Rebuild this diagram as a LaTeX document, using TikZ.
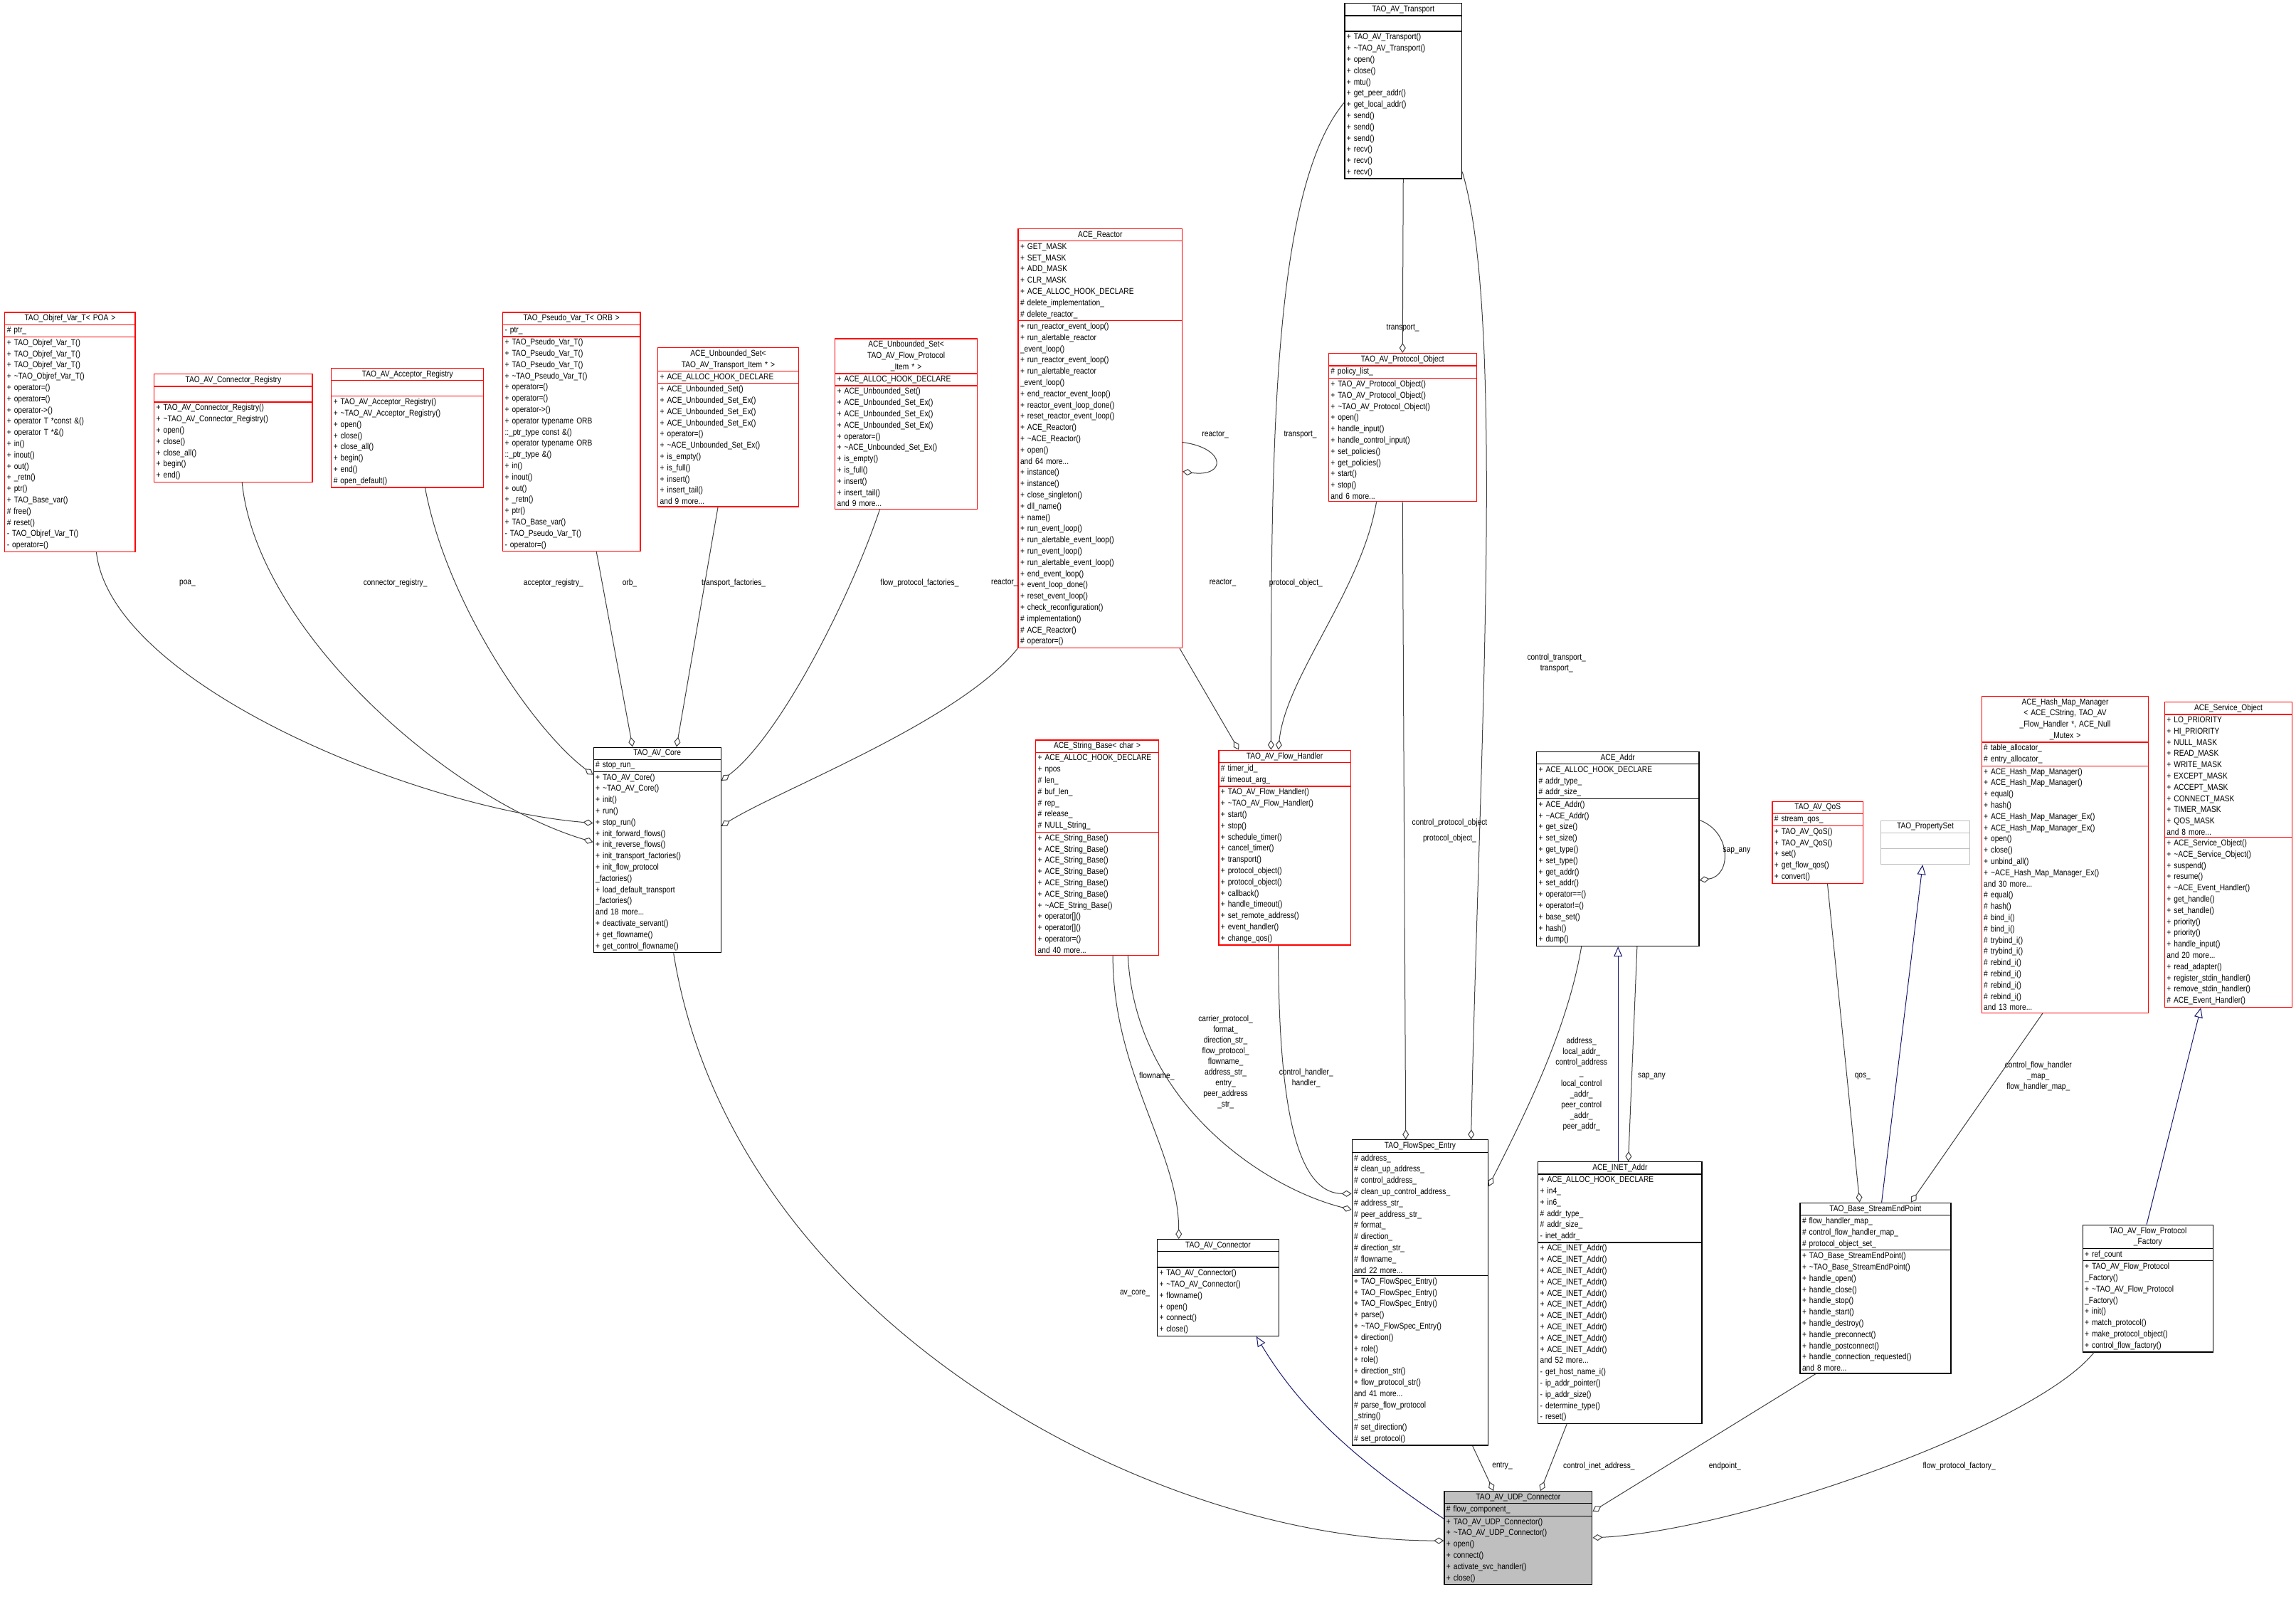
\documentclass[tikz,border=0pt]{standalone}
\usepackage{fontspec}
\setmainfont[FakeStretch=0.85]{Liberation Sans}
\usetikzlibrary{shapes.multipart,arrows.meta,calc}
\definecolor{edgegray}{HTML}{404040}
\definecolor{inhblue}{HTML}{191970}
\definecolor{boxred}{HTML}{FF0000}
\definecolor{boxgray}{HTML}{BFBFBF}
\tikzset{
	classbox/.style={rectangle split, rectangle split parts=3, draw=#1, anchor=north west, line width=1.3pt,
		inner xsep=3pt, inner ysep=2.5pt, font=\fontsize{12}{15.8}\selectfont, fill=white},
	cw/.style={text width=\dimexpr #1pt*2058/1000-6pt\relax},
	agg/.style={draw=edgegray, line width=1pt, -{Diamond[open,length=14pt,width=9pt]}},
	inh/.style={draw=inhblue, line width=1pt, -{Triangle[open,length=14pt,width=12pt]}},
	lbl/.style={font=\fontsize{12}{15}\selectfont, align=center, inner sep=1pt}
}
\begin{document}
\catcode`\_=12
\catcode`\~=12
\begin{tikzpicture}[x=2.058pt,y=-2.058pt]
	\useasboundingbox (0,0) rectangle (1568,1095);
	% upper row
	\node[classbox=black, cw=80] (transport) at (918,2) {\centering TAO_AV_Transport\par
		\nodepart{two}\strut
		\nodepart{three}\raggedright + TAO_AV_Transport()\\+ ~TAO_AV_Transport()\\+ open()\\+ close()\\+ mtu()\\+ get_peer_addr()\\+ get_local_addr()\\+ send()\\+ send()\\+ send()\\+ recv()\\+ recv()\\+ recv()\par};
	\node[classbox=boxred, cw=89] (objref) at (3,213) {\centering TAO_Objref_Var_T< POA >\par
		\nodepart{two}\raggedright \# ptr_\par
		\nodepart{three}\raggedright + TAO_Objref_Var_T()\\+ TAO_Objref_Var_T()\\+ TAO_Objref_Var_T()\\+ ~TAO_Objref_Var_T()\\+ operator=()\\+ operator=()\\+ operator->()\\+ operator T *const \&()\\+ operator T *\&()\\+ in()\\+ inout()\\+ out()\\+ _retn()\\+ ptr()\\+ TAO_Base_var()\\\# free()\\\# reset()\\- TAO_Objref_Var_T()\\- operator=()\par};
	\node[classbox=boxred, cw=108] (connreg) at (105,255) {\centering TAO_AV_Connector_Registry\par
		\nodepart{two}\strut
		\nodepart{three}\raggedright + TAO_AV_Connector_Registry()\\+ ~TAO_AV_Connector_Registry()\\+ open()\\+ close()\\+ close_all()\\+ begin()\\+ end()\par};
	\node[classbox=boxred, cw=104] (accreg) at (226,251) {\centering TAO_AV_Acceptor_Registry\par
		\nodepart{two}\strut
		\nodepart{three}\raggedright + TAO_AV_Acceptor_Registry()\\+ ~TAO_AV_Acceptor_Registry()\\+ open()\\+ close()\\+ close_all()\\+ begin()\\+ end()\\\# open_default()\par};
	\node[classbox=boxred, cw=94] (pseudo) at (343,213) {\centering TAO_Pseudo_Var_T< ORB >\par
		\nodepart{two}\raggedright - ptr_\par
		\nodepart{three}\raggedright + TAO_Pseudo_Var_T()\\+ TAO_Pseudo_Var_T()\\+ TAO_Pseudo_Var_T()\\+ ~TAO_Pseudo_Var_T()\\+ operator=()\\+ operator=()\\+ operator->()\\+ operator typename ORB\\::_ptr_type const \&()\\+ operator typename ORB\\::_ptr_type \&()\\+ in()\\+ inout()\\+ out()\\+ _retn()\\+ ptr()\\+ TAO_Base_var()\\- TAO_Pseudo_Var_T()\\- operator=()\par};
	\node[classbox=boxred, cw=96] (unbtrans) at (449,237) {\centering ACE_Unbounded_Set<\\TAO_AV_Transport_Item * >\par
		\nodepart{two}\raggedright + ACE_ALLOC_HOOK_DECLARE\par
		\nodepart{three}\raggedright + ACE_Unbounded_Set()\\+ ACE_Unbounded_Set_Ex()\\+ ACE_Unbounded_Set_Ex()\\+ ACE_Unbounded_Set_Ex()\\+ operator=()\\+ ~ACE_Unbounded_Set_Ex()\\+ is_empty()\\+ is_full()\\+ insert()\\+ insert_tail()\\and 9 more...\par};
	\node[classbox=boxred, cw=97] (unbflow) at (570,231) {\centering ACE_Unbounded_Set<\\TAO_AV_Flow_Protocol\\_Item * >\par
		\nodepart{two}\raggedright + ACE_ALLOC_HOOK_DECLARE\par
		\nodepart{three}\raggedright + ACE_Unbounded_Set()\\+ ACE_Unbounded_Set_Ex()\\+ ACE_Unbounded_Set_Ex()\\+ ACE_Unbounded_Set_Ex()\\+ operator=()\\+ ~ACE_Unbounded_Set_Ex()\\+ is_empty()\\+ is_full()\\+ insert()\\+ insert_tail()\\and 9 more...\par};
	\node[classbox=boxred, cw=112] (reactor) at (695,156) {\centering ACE_Reactor\par
		\nodepart{two}\raggedright + GET_MASK\\+ SET_MASK\\+ ADD_MASK\\+ CLR_MASK\\+ ACE_ALLOC_HOOK_DECLARE\\\# delete_implementation_\\\# delete_reactor_\par
		\nodepart{three}\raggedright + run_reactor_event_loop()\\+ run_alertable_reactor\\_event_loop()\\+ run_reactor_event_loop()\\+ run_alertable_reactor\\_event_loop()\\+ end_reactor_event_loop()\\+ reactor_event_loop_done()\\+ reset_reactor_event_loop()\\+ ACE_Reactor()\\+ ~ACE_Reactor()\\+ open()\\and 64 more...\\+ instance()\\+ instance()\\+ close_singleton()\\+ dll_name()\\+ name()\\+ run_event_loop()\\+ run_alertable_event_loop()\\+ run_event_loop()\\+ run_alertable_event_loop()\\+ end_event_loop()\\+ event_loop_done()\\+ reset_event_loop()\\+ check_reconfiguration()\\\# implementation()\\\# ACE_Reactor()\\\# operator=()\par};
	\node[classbox=boxred, cw=101] (protocol) at (907,241) {\centering TAO_AV_Protocol_Object\par
		\nodepart{two}\raggedright \# policy_list_\par
		\nodepart{three}\raggedright + TAO_AV_Protocol_Object()\\+ TAO_AV_Protocol_Object()\\+ ~TAO_AV_Protocol_Object()\\+ open()\\+ handle_input()\\+ handle_control_input()\\+ set_policies()\\+ get_policies()\\+ start()\\+ stop()\\and 6 more...\par};
	% middle row
	\node[classbox=black, cw=87] (core) at (405,510) {\centering TAO_AV_Core\par
		\nodepart{two}\raggedright \# stop_run_\par
		\nodepart{three}\raggedright + TAO_AV_Core()\\+ ~TAO_AV_Core()\\+ init()\\+ run()\\+ stop_run()\\+ init_forward_flows()\\+ init_reverse_flows()\\+ init_transport_factories()\\+ init_flow_protocol\\_factories()\\+ load_default_transport\\_factories()\\and 18 more...\\+ deactivate_servant()\\+ get_flowname()\\+ get_control_flowname()\par};
	\node[classbox=boxred, cw=84] (strbase) at (707,505) {\centering ACE_String_Base< char >\par
		\nodepart{two}\raggedright \mbox{+ ACE_ALLOC_HOOK_DECLARE}\\+ npos\\\# len_\\\# buf_len_\\\# rep_\\\# release_\\\# NULL_String_\par
		\nodepart{three}\raggedright + ACE_String_Base()\\+ ACE_String_Base()\\+ ACE_String_Base()\\+ ACE_String_Base()\\+ ACE_String_Base()\\+ ACE_String_Base()\\+ ~ACE_String_Base()\\+ operator[]()\\+ operator[]()\\+ operator=()\\and 40 more...\par};
	\node[classbox=boxred, cw=90] (flowhandler) at (832,512) {\centering TAO_AV_Flow_Handler\par
		\nodepart{two}\raggedright \# timer_id_\\\# timeout_arg_\par
		\nodepart{three}\raggedright + TAO_AV_Flow_Handler()\\+ ~TAO_AV_Flow_Handler()\\+ start()\\+ stop()\\+ schedule_timer()\\+ cancel_timer()\\+ transport()\\+ protocol_object()\\+ protocol_object()\\+ callback()\\+ handle_timeout()\\+ set_remote_address()\\+ event_handler()\\+ change_qos()\par};
	\node[classbox=black, cw=111] (addr) at (1049,513) {\centering ACE_Addr\par
		\nodepart{two}\raggedright + ACE_ALLOC_HOOK_DECLARE\\\# addr_type_\\\# addr_size_\par
		\nodepart{three}\raggedright + ACE_Addr()\\+ ~ACE_Addr()\\+ get_size()\\+ set_size()\\+ get_type()\\+ set_type()\\+ get_addr()\\+ set_addr()\\+ operator==()\\+ operator!=()\\+ base_set()\\+ hash()\\+ dump()\par};
	\node[classbox=boxred, cw=62] (qos) at (1210,547) {\centering TAO_AV_QoS\par
		\nodepart{two}\raggedright \# stream_qos_\par
		\nodepart{three}\raggedright + TAO_AV_QoS()\\+ TAO_AV_QoS()\\+ set()\\+ get_flow_qos()\\+ convert()\par};
	\node[classbox=boxgray, cw=61] (propset) at (1284,560) {\centering TAO_PropertySet\par
		\nodepart{two}\strut
		\nodepart{three}\strut};
	\node[classbox=boxred, cw=114] (hashmap) at (1353,475) {\centering ACE_Hash_Map_Manager\\< ACE_CString, TAO_AV\\_Flow_Handler *, ACE_Null\\_Mutex >\par
		\nodepart{two}\raggedright \# table_allocator_\\\# entry_allocator_\par
		\nodepart{three}\raggedright + ACE_Hash_Map_Manager()\\+ ACE_Hash_Map_Manager()\\+ equal()\\+ hash()\\+ ACE_Hash_Map_Manager_Ex()\\+ ACE_Hash_Map_Manager_Ex()\\+ open()\\+ close()\\+ unbind_all()\\+ ~ACE_Hash_Map_Manager_Ex()\\and 30 more...\\\# equal()\\\# hash()\\\# bind_i()\\\# bind_i()\\\# trybind_i()\\\# trybind_i()\\\# rebind_i()\\\# rebind_i()\\\# rebind_i()\\\# rebind_i()\\and 13 more...\par};
	\node[classbox=boxred, cw=87] (service) at (1478,479) {\centering ACE_Service_Object\par
		\nodepart{two}\raggedright + LO_PRIORITY\\+ HI_PRIORITY\\+ NULL_MASK\\+ READ_MASK\\+ WRITE_MASK\\+ EXCEPT_MASK\\+ ACCEPT_MASK\\+ CONNECT_MASK\\+ TIMER_MASK\\+ QOS_MASK\\and 8 more...\par
		\nodepart{three}\raggedright + ACE_Service_Object()\\+ ~ACE_Service_Object()\\+ suspend()\\+ resume()\\+ ~ACE_Event_Handler()\\+ get_handle()\\+ set_handle()\\+ priority()\\+ priority()\\+ handle_input()\\and 20 more...\\+ read_adapter()\\+ register_stdin_handler()\\+ remove_stdin_handler()\\\# ACE_Event_Handler()\par};
	% lower row
	\node[classbox=black, cw=93] (flowspec) at (923,778) {\centering TAO_FlowSpec_Entry\par
		\nodepart{two}\raggedright \# address_\\\# clean_up_address_\\\# control_address_\\\# clean_up_control_address_\\\# address_str_\\\# peer_address_str_\\\# format_\\\# direction_\\\# direction_str_\\\# flowname_\\and 22 more...\par
		\nodepart{three}\raggedright + TAO_FlowSpec_Entry()\\+ TAO_FlowSpec_Entry()\\+ TAO_FlowSpec_Entry()\\+ parse()\\+ ~TAO_FlowSpec_Entry()\\+ direction()\\+ role()\\+ role()\\+ direction_str()\\+ flow_protocol_str()\\and 41 more...\\\# parse_flow_protocol\\_string()\\\# set_direction()\\\# set_protocol()\par};
	\node[classbox=black, cw=112] (inetaddr) at (1050,793) {\centering ACE_INET_Addr\par
		\nodepart{two}\raggedright + ACE_ALLOC_HOOK_DECLARE\\+ in4_\\+ in6_\\\# addr_type_\\\# addr_size_\\- inet_addr_\par
		\nodepart{three}\raggedright + ACE_INET_Addr()\\+ ACE_INET_Addr()\\+ ACE_INET_Addr()\\+ ACE_INET_Addr()\\+ ACE_INET_Addr()\\+ ACE_INET_Addr()\\+ ACE_INET_Addr()\\+ ACE_INET_Addr()\\+ ACE_INET_Addr()\\+ ACE_INET_Addr()\\and 52 more...\\- get_host_name_i()\\- ip_addr_pointer()\\- ip_addr_size()\\- determine_type()\\- reset()\par};
	\node[classbox=black, cw=103] (endpoint) at (1229,821) {\centering TAO_Base_StreamEndPoint\par
		\nodepart{two}\raggedright \# flow_handler_map_\\\# control_flow_handler_map_\\\# protocol_object_set_\par
		\nodepart{three}\raggedright + TAO_Base_StreamEndPoint()\\+ ~TAO_Base_StreamEndPoint()\\+ handle_open()\\+ handle_close()\\+ handle_stop()\\+ handle_start()\\+ handle_destroy()\\+ handle_preconnect()\\+ handle_postconnect()\\+ handle_connection_requested()\\and 8 more...\par};
	\node[classbox=black, cw=89] (protofactory) at (1422,836) {\centering TAO_AV_Flow_Protocol\\_Factory\par
		\nodepart{two}\raggedright + ref_count\par
		\nodepart{three}\raggedright + TAO_AV_Flow_Protocol\\_Factory()\\+ ~TAO_AV_Flow_Protocol\\_Factory()\\+ init()\\+ match_protocol()\\+ make_protocol_object()\\+ control_flow_factory()\par};
	\node[classbox=black, cw=83] (avconnector) at (790,846) {\centering TAO_AV_Connector\par
		\nodepart{two}\strut
		\nodepart{three}\raggedright + TAO_AV_Connector()\\+ ~TAO_AV_Connector()\\+ flowname()\\+ open()\\+ connect()\\+ close()\par};
	\node[classbox=black, cw=101, fill=boxgray] (udpconn) at (986,1018) {\centering TAO_AV_UDP_Connector\par
		\nodepart{two}\raggedright \# flow_component_\par
		\nodepart{three}\raggedright + TAO_AV_UDP_Connector()\\+ ~TAO_AV_UDP_Connector()\\+ open()\\+ connect()\\+ activate_svc_handler()\\+ close()\par};

	% members of TAO_AV_Core
	\draw[agg] ($(objref.south)+(18,0)$) .. controls +(10,90) and +(-120,-10) .. ($(core.north west)+(0,52)$);
	\draw[agg] ($(connreg.south)+(6,0)$) .. controls +(10,100) and +(-100,-30) .. ($(core.north west)+(0,65)$);
	\draw[agg] ($(accreg.south)+(12,0)$) .. controls +(15,80) and +(-40,-30) .. ($(core.north west)+(0,19)$);
	\draw[agg] ($(pseudo.south)+(17,0)$) -- ($(core.north west)+(27,0)$);
	\draw[agg] ($(unbtrans.south)+(-7,0)$) -- ($(core.north west)+(57,0)$);
	\draw[agg] ($(unbflow.south)+(-18,0)$) .. controls +(-20,60) and +(40,-30) .. ($(core.north east)+(0,23)$);
	\draw[agg] (reactor.south west) .. controls +(-40,50) and +(40,-25) .. ($(core.north east)+(0,54)$);
	\node[lbl] (lpoa) at (128,398) {poa_};
	\node[lbl] (lconnreg) at (270,398) {connector_registry_};
	\node[lbl] (laccreg) at (378,398) {acceptor_registry_};
	\node[lbl] (lorb) at (430,398) {orb_};
	\node[lbl] (ltransf) at (501,398) {transport_factories_};
	\node[lbl] (lflowf) at (628,398) {flow_protocol_factories_};
	\node[lbl] (lreactcore) at (686,398) {reactor_};

	% reactor, transport, protocol object
	\draw[agg] ($(reactor.north east)+(0,146)$) .. controls ($(reactor.north east)+(30,150)$) and ($(reactor.north east)+(30,170)$) .. ($(reactor.north east)+(0,166)$);
	\node[lbl] (lreactself) at (830,297) {reactor_};
	\draw[agg] ($(reactor.south east)+(-2,0)$) -- ($(flowhandler.north west)+(14,0)$);
	\node[lbl] (lreactfh) at (835,398) {reactor_};
	\draw[agg] ($(transport.north west)+(0,68)$) .. controls +(-50,60) and +(0,-200) .. ($(flowhandler.north west)+(36,0)$);
	\node[lbl] (ltransfh) at (888,297) {transport_};
	\draw[agg] ($(protocol.south west)+(33,0)$) .. controls +(-10,60) and +(5,-50) .. ($(flowhandler.north west)+(41,0)$);
	\node[lbl] (lprotofh) at (885,398) {protocol_object_};
	\draw[agg] (transport.south) -- (protocol.north);
	\node[lbl] (ltransproto) at (958,224) {transport_};
	\draw[agg] ($(transport.south east)+(0,-5)$) .. controls +(30,100) and +(5,-250) .. ($(flowspec.north east)+(-12,0)$);
	\node[lbl] (ltransfs) at (1063,453) {control_transport_\\transport_};
	\draw[agg] (protocol.south) -- ($(flowspec.north west)+(37,0)$);
	\node[lbl] (lprotofs) at (990,567) {control_protocol_object\\[7pt]protocol_object_};

	% members of TAO_FlowSpec_Entry and TAO_AV_Connector
	\draw[agg] ($(strbase.south)+(21,0)$) .. controls +(5,100) and +(-60,-15) .. ($(flowspec.north west)+(0,48)$);
	\node[lbl] (lstrfs) at (837,725) {carrier_protocol_\\format_\\direction_str_\\flow_protocol_\\flowname_\\address_str_\\entry_\\peer_address\\_str_};
	\draw[agg] ($(strbase.south west)+(53,0)$) .. controls +(0,80) and +(0,-60) .. ($(avconnector.north west)+(15,0)$);
	\node[lbl] (lstrconn) at (790,735) {flowname_};
	\draw[agg] ($(flowhandler.south west)+(41,0)$) .. controls +(0,100) and +(-40,0) .. ($(flowspec.north west)+(0,37)$);
	\node[lbl] (lfhfs) at (892,736) {control_handler_\\handler_};
	\draw[agg] ($(addr.south west)+(31,0)$) .. controls +(-10,60) and +(20,-40) .. ($(flowspec.north east)+(0,32)$);
	\node[lbl] (laddrfs) at (1080,740) {address_\\local_addr_\\control_address\\_\\local_control\\_addr_\\peer_control\\_addr_\\peer_addr_};

	% ACE_Addr
	\draw[agg] ($(addr.north east)+(0,47)$) .. controls ($(addr.north east)+(22,55)$) and ($(addr.north east)+(22,85)$) .. ($(addr.north east)+(0,88)$);
	\node[lbl] (lsapself) at (1186,581) {sap_any};
	\draw[inh] ($(inetaddr.north west)+(55,0)$) -- ($(addr.south west)+(56,0)$);
	\draw[agg] ($(addr.south west)+(69,0)$) -- ($(inetaddr.north west)+(62,0)$);
	\node[lbl] (lsapinet) at (1128,735) {sap_any};

	% TAO_Base_StreamEndPoint
	\draw[agg] ($(qos.south west)+(38,0)$) -- ($(endpoint.north west)+(41,0)$);
	\node[lbl] (lqos) at (1272,735) {qos_};
	\draw[inh] ($(endpoint.north west)+(56,0)$) -- ($(propset.south west)+(29,0)$);
	\draw[agg] ($(hashmap.south west)+(42,0)$) -- ($(endpoint.north west)+(76,0)$);
	\node[lbl] (lhashmap) at (1392,735) {control_flow_handler\\_map_\\flow_handler_map_};
	\draw[inh] ($(protofactory.north west)+(44,0)$) -- ($(service.south west)+(25,0)$);

	% members of TAO_AV_UDP_Connector
	\draw[agg] ($(core.south west)+(55,0)$) .. controls +(40,250) and +(-200,0) .. ($(udpconn.north west)+(0,34)$);
	\node[lbl] (lavcore) at (775,883) {av_core_};
	\draw[inh] ($(udpconn.north west)+(0,19)$) .. controls +(-60,-40) and +(30,50) .. ($(avconnector.south west)+(68,0)$);
	\draw[agg] ($(flowspec.south east)+(-11,0)$) -- ($(udpconn.north west)+(34,0)$);
	\node[lbl] (lentry) at (1026,1001) {entry_};
	\draw[agg] ($(inetaddr.south west)+(20,0)$) -- ($(udpconn.north west)+(66,0)$);
	\node[lbl] (linet) at (1092,1001) {control_inet_address_};
	\draw[agg] ($(endpoint.south west)+(11,0)$) -- ($(udpconn.north east)+(0,14)$);
	\node[lbl] (lendpoint) at (1178,1001) {endpoint_};
	\draw[agg] ($(protofactory.south west)+(8,0)$) .. controls +(-40,50) and +(100,-5) .. ($(udpconn.north east)+(0,32)$);
	\node[lbl] (lfactory) at (1338,1001) {flow_protocol_factory_};
\end{tikzpicture}
\end{document}
